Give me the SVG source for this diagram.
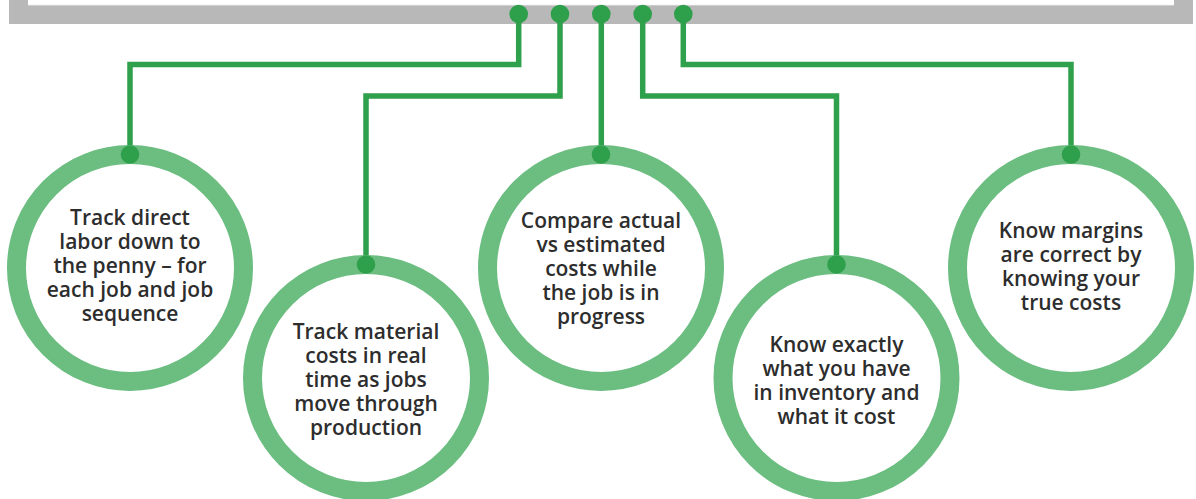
<svg xmlns="http://www.w3.org/2000/svg" width="1196" height="499" viewBox="0 0 1196 499">
<style>
.ring{fill:#ffffff;stroke:#6bbd80;stroke-width:19}
.dot{fill:#2e9f4a}
.conn{fill:none;stroke:#2fa04b;stroke-width:5.5;stroke-linejoin:miter}
.lbl{font-family:"Open Sans","Liberation Sans",sans-serif;font-weight:600;font-size:21px;fill:#2d2d2d;text-anchor:middle}
</style>
<rect width="1196" height="499" fill="#ffffff"/>
<g id="bar">
<rect x="9" y="0" width="1184" height="24" fill="#b8b8b8"/>
<rect x="28" y="0" width="1146" height="5" fill="#ffffff"/>
<line x1="28" y1="5.3" x2="1174" y2="5.3" stroke="#dcdcdc" stroke-width="0.8"/>
</g>
<g id="connectors">
<path class="conn" d="M518.7,14 V64.5 H130 V154.5"/>
<path class="conn" d="M560,14 V96 H366 V264.5"/>
<path class="conn" d="M601.3,14 V154.5"/>
<path class="conn" d="M642.7,14 V96 H836.5 V264.5"/>
<path class="conn" d="M683.3,14 V64.5 H1071 V154.5"/>
<circle class="dot" cx="518.7" cy="14" r="9.3"/>
<circle class="dot" cx="560" cy="14" r="9.3"/>
<circle class="dot" cx="601.3" cy="14" r="9.3"/>
<circle class="dot" cx="642.7" cy="14" r="9.3"/>
<circle class="dot" cx="683.3" cy="14" r="9.3"/>
</g>
<g id="node1">
<circle class="ring" cx="130" cy="268" r="113.5"/>
<circle class="dot" cx="130" cy="154.5" r="9.3"/>
<text class="lbl" x="130" y="224.5">Track direct</text>
<text class="lbl" x="130" y="248.5">labor down to</text>
<text class="lbl" x="130" y="272.5">the penny – for</text>
<text class="lbl" x="130" y="296.5">each job and job</text>
<text class="lbl" x="130" y="320.5">sequence</text>
</g>
<g id="node2">
<circle class="ring" cx="366" cy="378" r="113.5"/>
<circle class="dot" cx="366" cy="264.5" r="9.3"/>
<text class="lbl" x="366" y="339">Track material</text>
<text class="lbl" x="366" y="363">costs in real</text>
<text class="lbl" x="366" y="387">time as jobs</text>
<text class="lbl" x="366" y="411">move through</text>
<text class="lbl" x="366" y="435">production</text>
</g>
<g id="node3">
<circle class="ring" cx="601" cy="268" r="113.5"/>
<circle class="dot" cx="601" cy="154.5" r="9.3"/>
<text class="lbl" x="601" y="228.3">Compare actual</text>
<text class="lbl" x="601" y="252.3">vs estimated</text>
<text class="lbl" x="601" y="276.3">costs while</text>
<text class="lbl" x="601" y="300.3">the job is in</text>
<text class="lbl" x="601" y="324.3">progress</text>
</g>
<g id="node4">
<circle class="ring" cx="836.5" cy="378" r="113.5"/>
<circle class="dot" cx="836.5" cy="264.5" r="9.3"/>
<text class="lbl" x="836.5" y="351.7">Know exactly</text>
<text class="lbl" x="836.5" y="375.7">what you have</text>
<text class="lbl" x="836.5" y="399.7">in inventory and</text>
<text class="lbl" x="836.5" y="423.7">what it cost</text>
</g>
<g id="node5">
<circle class="ring" cx="1071" cy="268" r="113.5"/>
<circle class="dot" cx="1071" cy="154.5" r="9.3"/>
<text class="lbl" x="1071" y="238.3">Know margins</text>
<text class="lbl" x="1071" y="262.3">are correct by</text>
<text class="lbl" x="1071" y="286.3">knowing your</text>
<text class="lbl" x="1071" y="310.3">true costs</text>
</g>
</svg>
